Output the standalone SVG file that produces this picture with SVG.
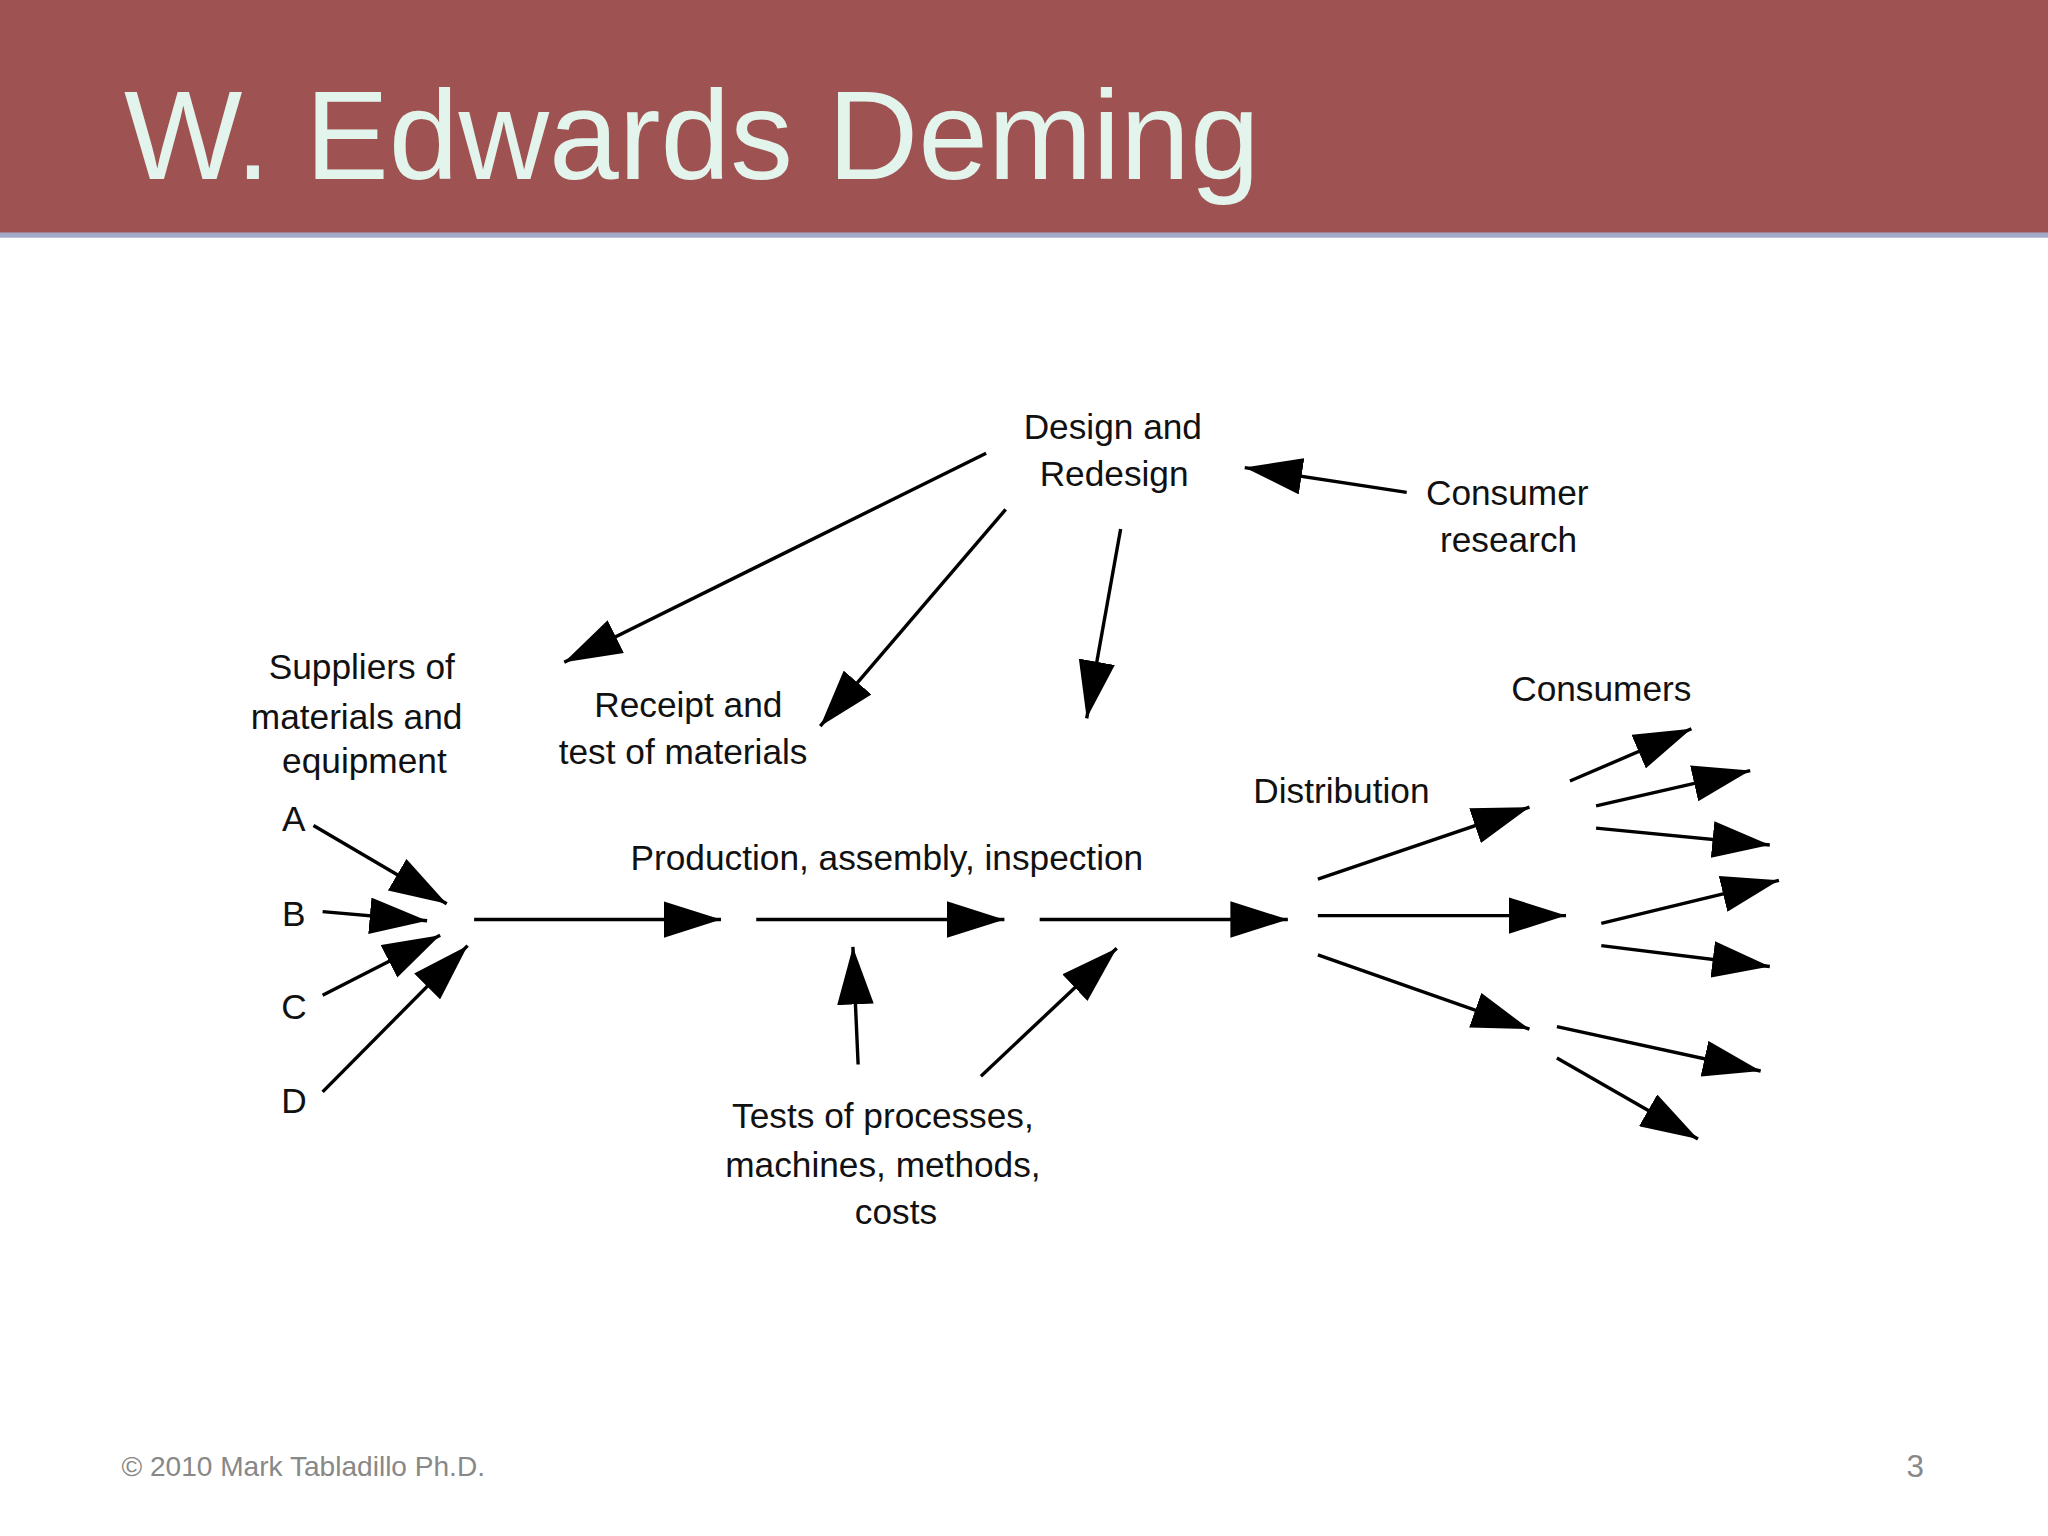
<svg xmlns="http://www.w3.org/2000/svg" width="2048" height="1536" viewBox="0 0 2048 1536">
<defs>
<style>
text{font-family:"Liberation Sans",Arial,sans-serif;fill:#111}
.l{font-size:27px;text-anchor:middle}
.c line{stroke:#000;stroke-width:2.6;marker-end:url(#ah)}
</style>
<marker id="ah" markerUnits="userSpaceOnUse" markerWidth="44" markerHeight="28" viewBox="0 0 44 28" refX="44" refY="14" orient="auto"><path d="M0,0 L44,14 L0,28 Z" fill="#000"/></marker>
</defs>
<rect width="2048" height="1536" fill="#fff"/>
<g transform="scale(1.30612)">
<g id="header">
<rect x="0" y="0" width="1568" height="179" fill="#9E5252"/>
<rect x="0" y="178" width="1568" height="4" fill="#A3AAC8"/>
<text x="95" y="137" style="font-size:96px;fill:#E2F4EC">W. Edwards Deming</text>
</g>
<g id="design"><text class="l" x="852" y="336">Design and</text><text class="l" x="853" y="372">Redesign</text></g>
<g id="consumer-research"><text class="l" x="1154" y="387">Consumer</text><text class="l" x="1155" y="423">research</text></g>
<g id="suppliers"><text class="l" x="277" y="520">Suppliers of</text><text class="l" x="273" y="558">materials and</text><text class="l" x="279" y="592">equipment</text></g>
<g id="A"><text class="l" x="225" y="636">A</text></g>
<g id="B"><text class="l" x="225" y="709">B</text></g>
<g id="C"><text class="l" x="225" y="780">C</text></g>
<g id="D"><text class="l" x="225" y="852">D</text></g>
<g id="receipt"><text class="l" x="527" y="549">Receipt and</text><text class="l" x="523" y="585">test of materials</text></g>
<g id="production"><text class="l" x="679" y="666">Production, assembly, inspection</text></g>
<g id="distribution"><text class="l" x="1027" y="615">Distribution</text></g>
<g id="consumers"><text class="l" x="1226" y="537">Consumers</text></g>
<g id="tests"><text class="l" x="676" y="864">Tests of processes,</text><text class="l" x="676" y="901">machines, methods,</text><text class="l" x="686" y="937">costs</text></g>
<g id="footer"><text x="93" y="1130" style="font-size:21.5px;fill:#888">© 2010 Mark Tabladillo Ph.D.</text><text x="1473" y="1131" style="font-size:24px;fill:#888;text-anchor:end">3</text></g>
<g id="connectors" class="c">
<line x1="755" y1="347" x2="432" y2="507"/>
<line x1="770" y1="390" x2="628" y2="556"/>
<line x1="858" y1="405" x2="832" y2="550"/>
<line x1="1077" y1="377" x2="953" y2="358"/>
<line x1="240" y1="632" x2="342" y2="692"/>
<line x1="247" y1="698" x2="327" y2="705"/>
<line x1="247" y1="762" x2="337" y2="716"/>
<line x1="247" y1="836" x2="358" y2="724"/>
<line x1="363" y1="704" x2="552" y2="704"/>
<line x1="579" y1="704" x2="769" y2="704"/>
<line x1="796" y1="704" x2="986" y2="704"/>
<line x1="657" y1="815" x2="653" y2="725"/>
<line x1="751" y1="824" x2="855" y2="726"/>
<line x1="1009" y1="673" x2="1171" y2="618"/>
<line x1="1009" y1="701" x2="1199" y2="701"/>
<line x1="1009" y1="731" x2="1171" y2="788"/>
<line x1="1202" y1="598" x2="1295" y2="558"/>
<line x1="1222" y1="617" x2="1340" y2="590"/>
<line x1="1222" y1="634" x2="1355" y2="647"/>
<line x1="1226" y1="707" x2="1362" y2="674"/>
<line x1="1226" y1="724" x2="1355" y2="740"/>
<line x1="1192" y1="786" x2="1348" y2="820"/>
<line x1="1192" y1="810" x2="1300" y2="872"/>
</g>
</g>
</svg>
